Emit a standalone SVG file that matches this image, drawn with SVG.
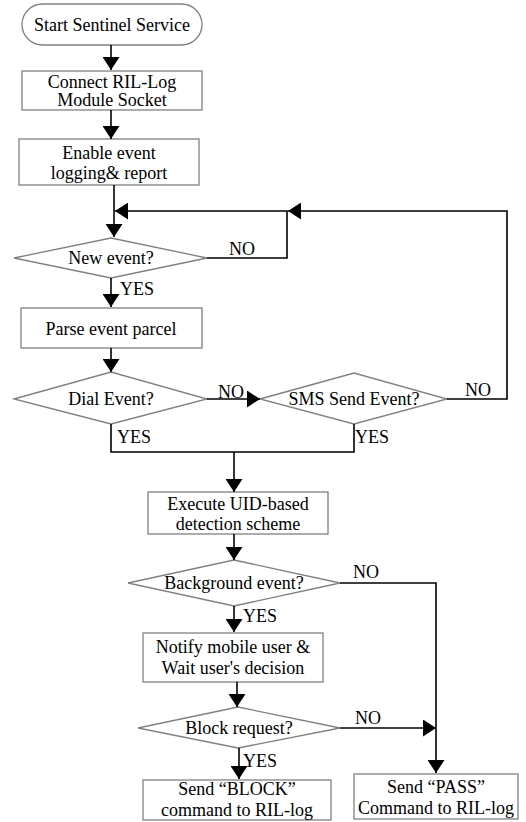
<svg xmlns="http://www.w3.org/2000/svg" width="526" height="822" viewBox="0 0 526 822">
<style>
.shape{fill:#fff;stroke:#808080;stroke-width:1.3}
text{font-family:'Liberation Serif','Times New Roman','DejaVu Serif',serif;font-size:18px;fill:#000}
.t{text-anchor:middle}
.c{fill:none;stroke:#000;stroke-width:1.6}
</style>
<defs>
<marker id="arr" viewBox="0 0 13 17" refX="13" refY="8.5" markerWidth="13" markerHeight="17" orient="auto" markerUnits="userSpaceOnUse">
<path d="M0,0 L13,8.5 L0,17 z" fill="#000"/>
</marker>
</defs>
<rect width="526" height="822" fill="#fff"/>
<g font-family="Liberation Serif, Times New Roman, serif">
<g id="start"><rect class="shape" x="22" y="4" width="180" height="41" rx="20.5"/><text class="t" x="112" y="31">Start Sentinel Service</text></g>
<g id="connect"><rect class="shape" x="22" y="71" width="180" height="39"/><text class="t" x="112" y="88">Connect RIL-Log</text><text class="t" x="112" y="106">Module Socket</text></g>
<g id="enable"><rect class="shape" x="19" y="139" width="180" height="46"/><text class="t" x="109" y="159">Enable event</text><text class="t" x="109" y="179">logging&amp; report</text></g>
<g id="newevent"><polygon class="shape" points="14,258 111,238 207,258 111,278"/><text class="t" x="111" y="264">New event?</text></g>
<g id="parse"><rect class="shape" x="21" y="308" width="181" height="40"/><text class="t" x="111" y="335">Parse event parcel</text></g>
<g id="dial"><polygon class="shape" points="14,399 111,372 207,399 111,424"/><text class="t" x="111" y="405">Dial Event?</text></g>
<g id="sms"><polygon class="shape" points="260,399 354,373 447,399 354,424"/><text class="t" x="354" y="405">SMS Send Event?</text></g>
<g id="execute"><rect class="shape" x="148" y="492" width="180" height="42"/><text class="t" x="238" y="510">Execute UID-based</text><text class="t" x="238" y="530">detection scheme</text></g>
<g id="background"><polygon class="shape" points="128,583 234,560 340,583 234,606"/><text class="t" x="234" y="589">Background event?</text></g>
<g id="notify"><rect class="shape" x="143" y="633" width="180" height="49"/><text class="t" x="233" y="653">Notify mobile user &amp;</text><text class="t" x="233" y="674">Wait user's decision</text></g>
<g id="block"><polygon class="shape" points="138,728 238,707 340,728 238,748"/><text class="t" x="239" y="734">Block request?</text></g>
<g id="sendblock"><rect class="shape" x="143" y="780" width="188" height="40"/><text class="t" x="237" y="795">Send “BLOCK”</text><text class="t" x="237" y="816">command to RIL-log</text></g>
<g id="sendpass"><rect class="shape" x="354" y="774" width="164" height="45"/><text class="t" x="436" y="793">Send “PASS”</text><text class="t" x="436" y="814">Command to RIL-log</text></g>
<g id="connectors">
<path class="c" d="M111,45 V70" marker-end="url(#arr)"/>
<path class="c" d="M111,110 V139" marker-end="url(#arr)"/>
<path class="c" d="M114,185 V237" marker-end="url(#arr)"/>
<path class="c" d="M207,258 H287 V211 H115" marker-end="url(#arr)"/>
<path class="c" d="M447,399 H507 V211 H288" marker-end="url(#arr)"/>
<path class="c" d="M111,278 V307" marker-end="url(#arr)"/>
<path class="c" d="M111,348 V372" marker-end="url(#arr)"/>
<path class="c" d="M207,399 H260" marker-end="url(#arr)"/>
<path class="c" d="M111,424 V452 H354 V424"/>
<path class="c" d="M234,452 V492" marker-end="url(#arr)"/>
<path class="c" d="M234,534 V560" marker-end="url(#arr)"/>
<path class="c" d="M340,583 H436 V773" marker-end="url(#arr)"/>
<path class="c" d="M234,606 V632" marker-end="url(#arr)"/>
<path class="c" d="M237,682 V707" marker-end="url(#arr)"/>
<path class="c" d="M340,728 H436" marker-end="url(#arr)"/>
<path class="c" d="M239,748 V779" marker-end="url(#arr)"/>
<text x="229" y="255">NO</text>
<text x="120" y="295">YES</text>
<text x="218" y="398">NO</text>
<text x="465" y="396">NO</text>
<text x="117" y="443">YES</text>
<text x="355" y="443">YES</text>
<text x="353" y="578">NO</text>
<text x="243" y="622">YES</text>
<text x="355" y="724">NO</text>
<text x="243" y="767">YES</text>
</g>
</g>
</svg>
